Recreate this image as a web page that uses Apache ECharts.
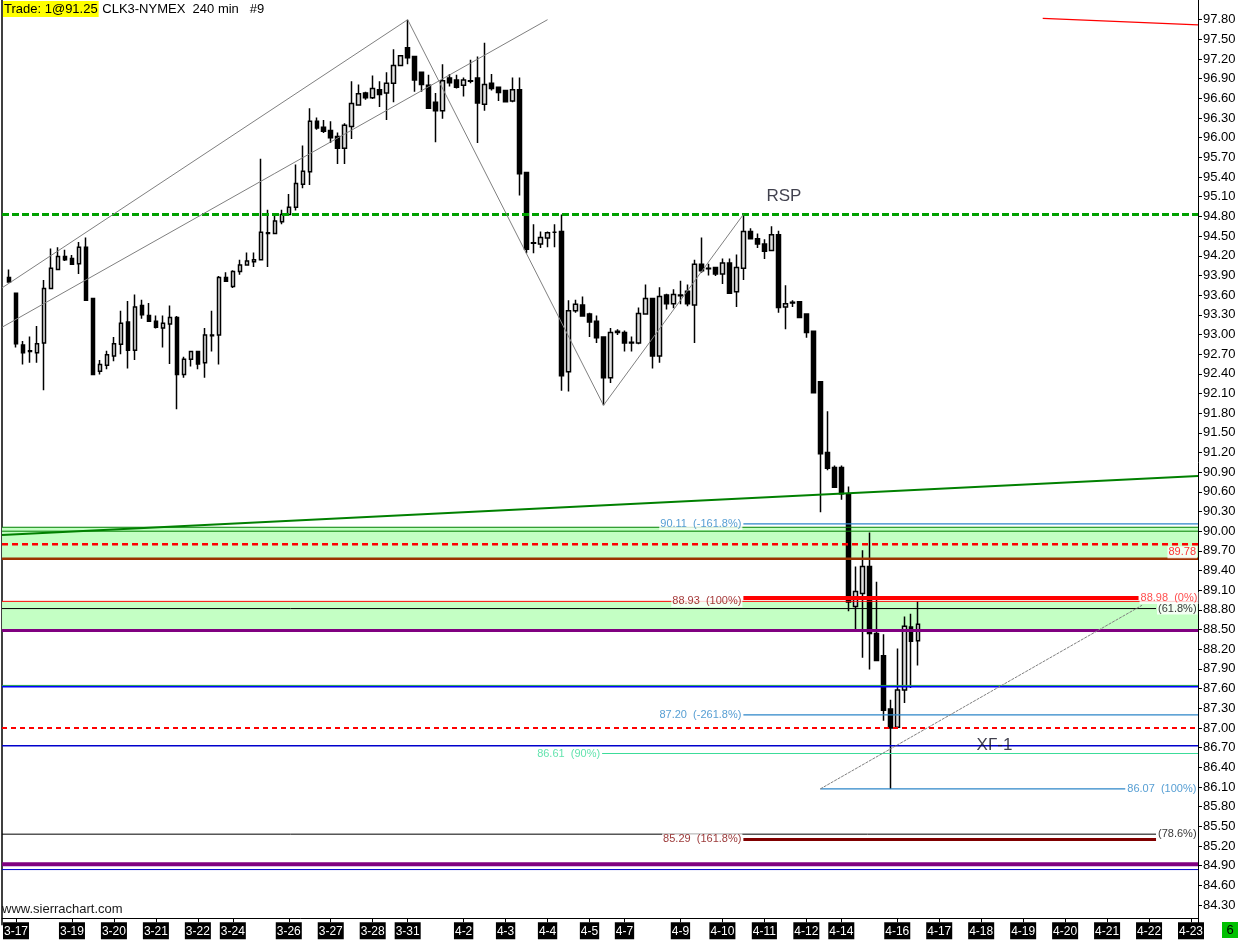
<!DOCTYPE html>
<html>
<head>
<meta charset="utf-8">
<script src="https://cdn.jsdelivr.net/npm/echarts@6/dist/echarts.min.js"></script>
<style>
  html, body { margin: 0; padding: 0; background: #fff; }
  #chart { width: 1240px; height: 940px; }
</style>
</head>
<body>
<div id="chart"></div>
<script>
// 240 min bars, slot 0 is empty, the rest after the last bar is future space
const BAR_SLOTS = 172;
const FIRST_BAR = 1;

const opens = [
  93.87, 93.63, 92.84, 92.75, 92.72, 92.87, 93.70, 93.99, 94.19, 94.16,
  94.08, 94.33, 93.55, 92.44, 92.53, 92.67, 92.85, 93.19, 92.76, 93.44,
  93.29, 93.20, 93.10, 93.16, 93.26, 92.39, 92.62, 92.74, 92.57, 92.99,
  92.99, 93.87, 93.73, 93.96, 94.06, 94.11, 94.14, 94.54, 94.54, 94.72,
  94.83, 94.94, 95.29, 95.48, 96.25, 96.16, 96.11, 96.02, 95.84, 96.17,
  96.50, 96.68, 96.61, 96.73, 96.68, 96.83, 97.10, 97.37, 97.24, 97.00,
  96.80, 96.54, 96.41, 96.91, 96.88, 96.80, 96.87, 96.91, 96.51, 96.83,
  96.77, 96.72, 96.56, 96.73, 95.47, 94.40, 94.38, 94.47, 94.56, 94.57,
  92.43, 93.36, 93.45, 93.31, 93.20, 92.96, 92.34, 93.03, 93.03, 92.88,
  92.87, 93.31, 93.55, 92.67, 93.60, 93.47, 93.60, 93.66, 93.45, 94.07,
  94.01, 94.02, 93.92, 94.09, 93.65, 94.01, 94.57, 94.46, 94.38, 94.28,
  94.52, 93.42, 93.49, 93.50, 93.31, 93.05, 92.28, 91.20, 90.97, 90.97,
  90.57, 88.85, 89.05, 89.46, 88.44, 88.10, 87.29, 87.01, 87.58, 88.54, 88.33
];
const highs = [
  93.99, 93.63, 92.90, 92.97, 93.13, 93.83, 94.31, 94.33, 94.29, 94.21,
  94.41, 94.48, 93.55, 92.61, 92.75, 92.96, 93.36, 93.51, 93.61, 93.53,
  93.48, 93.29, 93.29, 93.44, 93.28, 92.66, 92.75, 92.75, 93.10, 93.36,
  93.89, 93.95, 93.98, 94.14, 94.25, 94.25, 95.68, 94.90, 94.83, 94.90,
  95.14, 95.59, 95.88, 96.45, 96.31, 96.27, 96.25, 96.08, 96.22, 96.86,
  96.81, 96.70, 96.95, 96.86, 97.00, 97.35, 97.25, 97.80, 97.24, 97.00,
  96.96, 96.68, 97.12, 96.97, 96.96, 96.92, 97.19, 97.24, 97.45, 96.97,
  96.78, 96.73, 96.92, 96.92, 95.48, 94.68, 94.57, 94.57, 94.68, 94.83,
  93.52, 93.53, 93.58, 93.33, 93.29, 92.96, 93.10, 93.08, 93.06, 92.97,
  93.41, 93.76, 93.55, 93.72, 93.62, 93.69, 93.82, 93.76, 94.14, 94.48,
  94.08, 94.03, 94.16, 94.16, 94.22, 94.84, 94.62, 94.54, 94.45, 94.65,
  94.58, 93.75, 93.52, 93.51, 93.31, 93.05, 92.28, 91.83, 91.00, 91.00,
  90.68, 89.46, 89.71, 89.98, 89.23, 88.43, 87.43, 88.21, 88.70, 88.74, 88.93
];
const lows = [
  93.80, 92.80, 92.54, 92.57, 92.57, 92.15, 93.70, 93.99, 94.12, 94.07,
  93.92, 93.52, 92.38, 92.39, 92.47, 92.59, 92.70, 92.48, 92.61, 93.24,
  93.19, 93.09, 92.80, 92.55, 91.86, 92.34, 92.51, 92.47, 92.34, 92.74,
  92.54, 93.81, 93.71, 93.91, 94.06, 94.03, 94.14, 94.03, 94.54, 94.68,
  94.81, 94.89, 95.23, 95.28, 96.12, 96.07, 95.92, 95.60, 95.60, 95.98,
  96.50, 96.58, 96.59, 96.47, 96.27, 96.54, 97.10, 97.12, 96.70, 96.70,
  96.44, 95.93, 96.29, 96.78, 96.75, 96.63, 96.83, 95.92, 96.41, 96.72,
  96.56, 96.54, 96.54, 95.12, 94.24, 94.24, 94.32, 94.33, 94.33, 92.14,
  92.13, 93.33, 93.27, 92.96, 92.87, 91.92, 92.26, 92.99, 92.74, 92.74,
  92.85, 93.30, 92.48, 92.57, 93.38, 93.40, 93.46, 93.43, 92.87, 93.94,
  93.90, 93.89, 93.77, 93.62, 93.42, 93.83, 94.45, 94.32, 94.15, 94.27,
  93.33, 93.08, 93.42, 93.25, 92.95, 92.10, 90.29, 90.93, 90.66, 90.48,
  88.78, 88.48, 88.07, 87.89, 88.02, 87.11, 86.07, 87.01, 87.38, 87.61, 87.95
];
const closes = [
  93.80, 92.86, 92.72, 92.74, 92.86, 93.70, 94.01, 94.19, 94.14, 94.07,
  94.33, 93.52, 92.39, 92.54, 92.69, 92.86, 93.17, 92.76, 93.42, 93.30,
  93.20, 93.11, 93.17, 93.26, 92.39, 92.62, 92.74, 92.55, 92.99, 92.98,
  93.87, 93.81, 93.96, 94.06, 94.12, 94.14, 94.56, 94.55, 94.73, 94.83,
  94.94, 95.30, 95.49, 96.25, 96.15, 96.10, 96.00, 95.84, 96.19, 96.52,
  96.67, 96.61, 96.75, 96.66, 96.83, 97.10, 97.25, 97.22, 96.88, 96.81,
  96.45, 96.41, 96.87, 96.84, 96.77, 96.88, 96.86, 96.53, 96.81, 96.75,
  96.69, 96.55, 96.73, 95.45, 94.30, 94.39, 94.48, 94.55, 94.56, 92.37,
  93.36, 93.46, 93.28, 93.19, 92.95, 92.34, 93.03, 93.05, 92.87, 92.87,
  93.32, 93.55, 92.67, 93.58, 93.47, 93.61, 93.59, 93.47, 94.07, 93.97,
  94.00, 93.92, 94.09, 93.63, 94.02, 94.57, 94.46, 94.38, 94.27, 94.52,
  93.41, 93.47, 93.48, 93.26, 93.03, 92.11, 91.18, 90.96, 90.67, 90.57,
  88.92, 89.08, 89.46, 88.44, 88.03, 87.27, 87.00, 87.58, 88.55, 88.32, 88.58
];

// day labels on the time axis (slot index of first bar of the day)
const dateTicks = [2, 10, 16, 22, 28, 33, 41, 47, 53, 58, 66, 72, 78, 84, 89,
  97, 103, 109, 115, 120, 128, 134, 140, 146, 152, 158, 164, 170];
const dateLabels = ['3-17', '3-19', '3-20', '3-21', '3-22', '3-24', '3-26', '3-27', '3-28', '3-31',
  '4-2', '4-3', '4-4', '4-5', '4-7', '4-9', '4-10', '4-11', '4-12', '4-14',
  '4-16', '4-17', '4-18', '4-19', '4-20', '4-21', '4-22', '4-23'];

const lastPrice = 88.58;

// drawings, points are [slot, price]
const upperChannel = [[0, 93.71], [58, 97.80]];
const lowerChannel = [[0, 93.11], [78, 97.80]];
const swingPath = [[58, 97.80], [86, 91.92], [106, 94.83]];
const lowTrend = [[117, 86.07], [163, 88.87]];
const greenTrend = [[0, 89.94], [171, 90.84]];
const redTrend = [[148.8, 97.82], [171, 97.72]];

// full width horizontal levels
const fullLevels = [94.83, 90.06, 90.00, 89.80, 89.58, 88.93, 88.485, 87.648, 87.628, 87.00, 86.73, 84.92, 84.84];
const fullLevelStyles = [
  { color: '#00A000', width: 3, type: [7, 3] },
  { color: '#008000', width: 1 },
  { color: '#008000', width: 1 },
  { color: '#FF0000', width: 2.5, type: [6, 4] },
  { color: '#9C3300', width: 2.5 },
  { color: '#FF0000', width: 1 },
  { color: '#800080', width: 3 },
  { color: '#1E9E50', width: 1 },
  { color: '#0000FF', width: 1.5 },
  { color: '#FF0000', width: 2, type: [5, 4] },
  { color: '#0000CC', width: 1.5 },
  { color: '#800080', width: 4 },
  { color: '#0000CC', width: 1 }
];

// fib levels drawn over part of the width
const fibPrices = [90.11, 88.98, 88.82, 87.20, 86.61, 86.07, 85.38, 85.30];
const fibFrom = [106, 106, 0, 106, 85.8, 117, 0, 106];
const fibTo = [171, 162.5, 165, 171, 171, 160.6, 165, 165];
const fibText = ['90.11  (-161.8%)', '88.98  (0%)', '(61.8%)', '87.20  (-261.8%)',
  '86.61  (90%)', '86.07  (100%)', '(78.6%)', '85.29  (161.8%)'];
const fibStyles = [
  { color: '#2C86C8', width: 1.2, side: 'left' },
  { color: '#FF0000', width: 4, side: 'right', text: '#FF2020' },
  { color: '#000000', width: 1, side: 'right' },
  { color: '#2C86C8', width: 1.2, side: 'left' },
  { color: '#3CDC9A', width: 1.2, side: 'left' },
  { color: '#2C86C8', width: 1.2, side: 'right' },
  { color: '#000000', width: 1, side: 'right' },
  { color: '#800000', width: 3, side: 'left' }
];

const zoneBands = [[90.06, 89.58], [88.93, 88.485]];
const notes = [['RSP', 111.8, 95.11], ['XΓ-1', 141.9, 86.73]];

const FONT = 'Liberation Sans, Arial, sans-serif';

const slots = Array.from({ length: BAR_SLOTS }, (_, i) => String(i));
const candleData = slots.map((_, i) => {
  const j = i - FIRST_BAR;
  return j >= 0 && j < opens.length ? [opens[j], closes[j], lows[j], highs[j]] : '-';
});

function seg(points, style, z) {
  return {
    type: 'line', xAxisIndex: 1, yAxisIndex: 0, data: points,
    symbol: 'none', silent: true, z: z || 3, animation: false,
    lineStyle: { color: style.color, width: style.width, type: style.type || 'solid' }
  };
}

const series = [];

// green zones
series.push({
  type: 'line', xAxisIndex: 1, yAxisIndex: 0, data: [[0, 90.06], [171, 90.06]],
  symbol: 'none', silent: true, z: 1, lineStyle: { opacity: 0 },
  markArea: {
    silent: true,
    itemStyle: { color: '#C4FFC4' },
    data: zoneBands.map(b => [{ yAxis: b[0] }, { yAxis: b[1] }])
  }
});

series.push({
  type: 'candlestick', xAxisIndex: 0, yAxisIndex: 0, data: candleData,
  barWidth: 4, z: 2, silent: true,
  itemStyle: {
    color: '#E0E0E0', color0: '#000', borderColor: '#000', borderColor0: '#000',
    borderColorDoji: '#000', borderWidth: 1.5
  },
  markLine: {
    symbol: 'none', silent: true, animation: false,
    lineStyle: { opacity: 0 },
    label: {
      position: 'end', distance: 1, formatter: lastPrice.toFixed(2),
      backgroundColor: '#0000FF', color: '#fff', fontSize: 13, fontFamily: FONT,
      padding: [3, 2, 2, 2]
    },
    data: [{ yAxis: lastPrice }]
  }
});

fullLevels.forEach((p, i) => series.push(seg([[0, p], [171, p]], fullLevelStyles[i])));
fibPrices.forEach((p, i) => series.push(seg([[fibFrom[i], p], [fibTo[i], p]], fibStyles[i])));

const grey = { color: '#808080', width: 1 };
series.push(seg(upperChannel, grey, 4));
series.push(seg(lowerChannel, grey, 4));
series.push(seg(swingPath, grey, 4));
series.push(seg(lowTrend, { color: '#808080', width: 1, type: [3, 1] }, 4));
series.push(seg(greenTrend, { color: '#008000', width: 2 }, 3));
series.push(seg(redTrend, { color: '#FF0000', width: 1.2 }, 3));

// level labels
const labelItems = fibPrices.map((p, i) => {
  const st = fibStyles[i];
  const left = st.side === 'left';
  return {
    value: [left ? fibFrom[i] : fibTo[i], p],
    label: {
      formatter: fibText[i], position: left ? 'left' : 'right', distance: 1,
      color: st.text || st.color
    }
  };
});
labelItems.push({
  value: [106, 88.93],
  label: { formatter: '88.93  (100%)', position: 'left', distance: 1, color: '#8B0000' }
});
labelItems.push({
  value: [171, 89.80],
  label: { formatter: '89.78', position: 'left', distance: 1, offset: [0, 8], color: '#FF0000' }
});

series.push({
  type: 'scatter', xAxisIndex: 1, yAxisIndex: 0, symbolSize: 0, silent: true, z: 6,
  data: labelItems,
  label: {
    show: true, fontSize: 11, fontFamily: FONT, backgroundColor: '#fff',
    padding: [1, 1, 0, 1]
  }
});

series.push({
  type: 'scatter', xAxisIndex: 1, yAxisIndex: 0, symbolSize: 0, silent: true, z: 6,
  data: notes.map(n => ({ value: [n[1], n[2]], name: n[0] })),
  label: {
    show: true, position: 'inside', formatter: '{b}',
    fontSize: 17, fontFamily: FONT, color: '#101020'
  }
});

const chart = echarts.init(document.getElementById('chart'));
chart.setOption({
  animation: false,
  backgroundColor: '#fff',
  title: {
    left: 3, top: 1, padding: 0,
    text: '{hl|Trade: 1@91.25} CLK3-NYMEX  240 min   #9',
    textStyle: {
      fontSize: 13, fontWeight: 'normal', color: '#000', fontFamily: FONT,
      rich: {
        hl: { backgroundColor: '#FFFF00', color: '#000', fontSize: 13, fontFamily: FONT, padding: [2, 1, 1, 1] }
      }
    }
  },
  grid: { left: 0, right: 42, top: -1.71, bottom: 15.34, containLabel: false },
  xAxis: [
    {
      type: 'category', data: slots, boundaryGap: false, offset: -6.4,
      axisLine: { onZero: false, lineStyle: { color: '#000', width: 1 } },
      axisTick: { interval: i => dateTicks.includes(i), length: 4, lineStyle: { color: '#000' } },
      axisLabel: {
        interval: i => dateTicks.includes(i),
        formatter: (v, i) => dateLabels[dateTicks.indexOf(i)],
        backgroundColor: '#000', color: '#fff', fontSize: 12, fontFamily: FONT,
        padding: [3, 1, 2, 1], margin: 4
      },
      splitLine: { show: false }
    },
    { type: 'value', min: 0, max: 171, show: false }
  ],
  yAxis: [
    {
      type: 'value', position: 'right', min: 84.0, max: 98.1, interval: 0.3,
      axisLine: { show: true, onZero: false, lineStyle: { color: '#000', width: 1 } },
      axisTick: { show: true, length: 4, lineStyle: { color: '#000' } },
      axisLabel: {
        formatter: v => v.toFixed(2), color: '#000', fontSize: 13, fontFamily: FONT,
        margin: 5, showMinLabel: false, showMaxLabel: false
      },
      splitLine: { show: false }
    },
    {
      type: 'value', position: 'left', min: 84.0, max: 98.1,
      axisLine: { show: true, onZero: false, lineStyle: { color: '#000', width: 1.5 } },
      axisTick: { show: false }, axisLabel: { show: false }, splitLine: { show: false }
    }
  ],
  graphic: [
    {
      type: 'text', left: 2, top: 903,
      style: { text: 'www.sierrachart.com', fill: '#1A1A1A', font: '13px Liberation Sans' }
    },
    {
      type: 'group', left: 1222, top: 922,
      children: [
        { type: 'rect', shape: { x: 0, y: 0, width: 16, height: 16 }, style: { fill: '#00C000' } },
        { type: 'text', style: { text: '6', x: 8, y: 8, align: 'center', verticalAlign: 'middle', fill: '#000', font: '13px Liberation Sans' } }
      ]
    }
  ],
  series: series
});
</script>
</body>
</html>
